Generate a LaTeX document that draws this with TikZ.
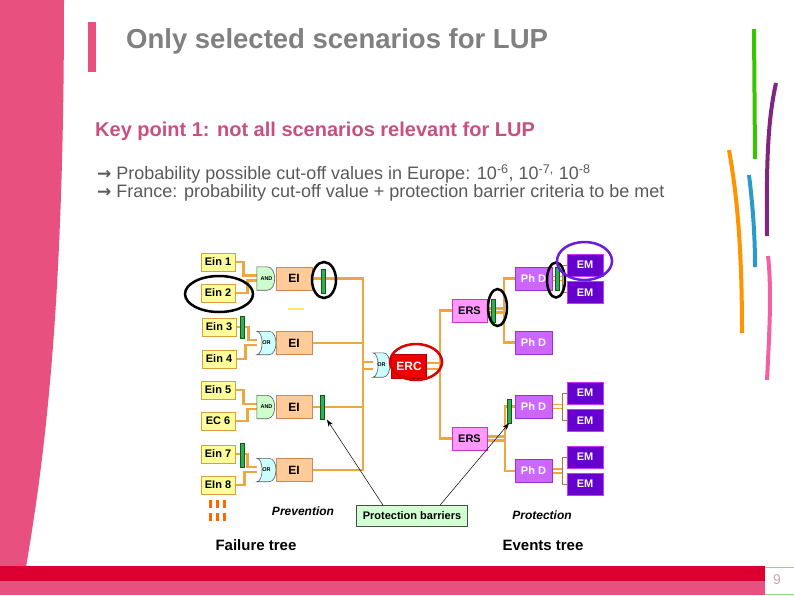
\documentclass[tikz,border=0pt]{standalone}
\usepackage{fontspec}
\setmainfont{Liberation Sans}
\newfontfamily\arrowfont{DejaVu Sans}
\usepackage{xcolor}
\usepackage{tikz}
\usetikzlibrary{positioning,arrows.meta,shapes.geometric,backgrounds,calc}

\definecolor{slidepink}{HTML}{E8507F}
\definecolor{slidered}{HTML}{DC0030}
\definecolor{titlegray}{HTML}{808080}
\definecolor{keypink}{HTML}{C94F82}
\definecolor{textgray}{HTML}{595959}
\definecolor{wireorange}{HTML}{EDA640}
\definecolor{einfill}{HTML}{FFFF99}
\definecolor{einborder}{HTML}{D9A040}
\definecolor{eifill}{HTML}{FFCC99}
\definecolor{eiborder}{HTML}{D08850}
\definecolor{barrgreen}{HTML}{3CA660}
\definecolor{ersfill}{HTML}{FF99FF}
\definecolor{ersborder}{HTML}{CC33CC}
\definecolor{phdfill}{HTML}{CC66FF}
\definecolor{phdborder}{HTML}{9933CC}
\definecolor{emfill}{HTML}{6600CC}
\definecolor{emborder}{HTML}{CC33FF}
\definecolor{ercred}{HTML}{EE0000}
\definecolor{ringpurple}{HTML}{6A1BE0}
\definecolor{stubbrown}{HTML}{B07838}
\definecolor{andfill}{HTML}{CCFFCC}
\definecolor{orfill}{HTML}{CCFFFF}

\begin{document}
\begin{tikzpicture}[
    x=1pt, y=-1pt,
    ein_box/.style={draw=einborder, fill=einfill, line width=1pt, minimum width=34, minimum height=18, inner sep=0pt, font=\bfseries\fontsize{11}{11}\selectfont},
    ei_box/.style={draw=eiborder, fill=eifill, line width=0.8pt, minimum width=36, minimum height=23, inner sep=0pt, font=\bfseries\fontsize{12}{12}\selectfont},
    gate/.style={minimum width=19, minimum height=23, inner sep=0pt, font=\bfseries\fontsize{5.5}{5.5}\selectfont},
    gate_line/.style={draw=black!65, line width=0.6pt},
    barrier/.style={draw=green!40!black, fill=barrgreen, line width=0.4pt, minimum width=4, minimum height=24, inner sep=0pt},
    ers_box/.style={draw=ersborder, fill=ersfill, line width=0.8pt, minimum width=35, minimum height=23, inner sep=0pt, font=\bfseries\fontsize{11}{11}\selectfont},
    phd_box/.style={draw=phdborder, fill=phdfill, text=white, line width=0.8pt, minimum width=37, minimum height=23, inner sep=0pt, font=\bfseries\fontsize{11}{11}\selectfont},
    em_box/.style={draw=emborder, fill=emfill, text=white, line width=0.8pt, minimum width=36, minimum height=22, inner sep=0pt, font=\bfseries\fontsize{11}{11}\selectfont},
    wire/.style={draw=wireorange, line width=2.2pt},
    stub_wire/.style={draw=stubbrown, line width=0.8pt},
    ring/.style={ellipse, draw=black, line width=2.5pt, inner sep=0pt},
    caption/.style={font=\bfseries\fontsize{15}{15}\selectfont},
    note/.style={font=\bfseries\itshape\fontsize{12}{12}\selectfont}
]
\useasboundingbox (0,0) rectangle (794,595);

% slide frame
\fill[slidepink] (0,0) -- (64,0) .. controls (64,300) and (46,450) .. (26,567) -- (0,567) -- cycle;
\fill[slidered] (0,566) rectangle (765,581);
\fill[slidepink] (0,581) rectangle (765,595);
\draw[green!50!gray!60, line width=1pt] (765,567) -- (794,567) (765,594) -- (794,594);
\node (pagenum) at (777,580) {\color{pink!60!gray}\fontsize{14}{14}\selectfont 9};
\fill[slidepink] (88,22) rectangle (96,72);

% coloured strokes on the right
\draw[line width=4pt, green!55!olive] (754,29) -- (755,159);
\draw[line width=4pt, violet!70!gray] (776,83) .. controls (769,115) and (766,150) .. (767,236);
\draw[line width=4pt, orange!85!yellow] (729,150) .. controls (736,190) and (742,240) .. (742,333);
\draw[line width=4pt, cyan!60!teal] (749,175) .. controls (752,200) and (755,230) .. (755,267);
\draw[line width=4pt, magenta!50!pink] (768,256) .. controls (772,290) and (769,340) .. (767,380);

% texts
\node[anchor=west, inner sep=0pt, text=titlegray, font=\bfseries\fontsize{27.5}{27.5}\selectfont] (title) at (126,41) {Only selected scenarios for LUP};
\node[anchor=west, inner sep=0pt, text=keypink, font=\bfseries\fontsize{20}{20}\selectfont] (keypoint) at (95,131) {Key point 1: not all scenarios relevant for LUP};
\node[anchor=west, inner sep=0pt, text=textgray, font=\fontsize{18}{18}\selectfont] (bullet1) at (97,174) {{\arrowfont\bfseries\fontsize{17}{17}\selectfont →} Probability possible cut-off values in Europe: 10\textsuperscript{-6}, 10\textsuperscript{-7,} 10\textsuperscript{-8}};
\node[anchor=west, inner sep=0pt, text=textgray, font=\fontsize{18}{18}\selectfont] (bullet2) at (97,193) {{\arrowfont\bfseries\fontsize{17}{17}\selectfont →} France: probability cut-off value + protection barrier criteria to be met};

% failure tree
\node[ein_box] (ein1) at (218,262) {Ein 1};
\node[ein_box] (ein2) at (218,293) {Ein 2};
\node[gate] (and1) at (266.5,278.5) {AND};
\node[ei_box] (ei1) at (294,278.5) {EI};
\node[barrier] (bar1) at (323,281) {};

\node[ein_box] (ein3) at (219,327) {Ein 3};
\node[ein_box] (ein4) at (219,359) {Ein 4};
\node[barrier, minimum height=22] (bar3) at (242,327) {};
\node[gate] (or1) at (266.5,343) {OR};
\node[ei_box] (ei2) at (294,343) {EI};

\node[ein_box] (ein5) at (218,390) {Ein 5};
\node[ein_box] (ec6) at (218,421) {EC 6};
\node[gate] (and2) at (266.5,407) {AND};
\node[ei_box] (ei3) at (294,407) {EI};
\node[barrier] (bar2) at (322,407.5) {};

\node[ein_box] (ein7) at (218,454) {Ein 7};
\node[ein_box] (ein8) at (218,485) {EIn 8};
\node[barrier] (bar4) at (242,455) {};
\node[gate] (or2) at (266.5,470) {OR};
\node[ei_box] (ei4) at (294,470) {EI};

% central event
\node[gate, minimum width=17, minimum height=24] (or3) at (381.5,365) {OR};
\node[draw=red!70!black, fill=ercred, text=white, minimum width=35, minimum height=24, inner sep=0pt, font=\bfseries\fontsize{12}{12}\selectfont] (erc) at (409,366) {ERC};

% events tree
\node[ers_box] (ers1) at (469.5,310.5) {ERS};
\node[barrier, minimum height=23] (bar5) at (493,311) {};
\node[phd_box] (phd1) at (533.5,278.5) {Ph D};
\node[barrier, minimum height=23] (bar6) at (557,278.5) {};
\node[phd_box] (phd2) at (533.5,342.5) {Ph D};
\node[em_box] (em1) at (585,265) {EM};
\node[em_box] (em2) at (585,292.5) {EM};

\node[ers_box] (ers2) at (469.5,438.5) {ERS};
\node[barrier] (bar7) at (509,411) {};
\node[phd_box] (phd3) at (533.5,406.5) {Ph D};
\node[phd_box] (phd4) at (533.5,471) {Ph D};
\node[em_box] (em3) at (585,393) {EM};
\node[em_box] (em4) at (585,420.5) {EM};
\node[em_box] (em5) at (585,457) {EM};
\node[em_box] (em6) at (585,484) {EM};

% bus joints
\coordinate (jtop) at (363,278.5);
\coordinate (jbot) at (363,470);
\coordinate (ktop) at (440,310.5);
\coordinate (kbot) at (440,438.5);
\coordinate (mtop) at (504,278.5);
\coordinate (mbot) at (504,342.5);
\coordinate (ntop) at (505,406.5);
\coordinate (nbot) at (505,471);

\begin{scope}[on background layer]
\draw[wire] (ein1.east) -- ++(8,0) |- ([yshift=3]and1.west);
\draw[wire] (ein2.east) -- ++(12,0) |- ([yshift=-2]and1.west);
\draw[wire] (ein3.east) -- ++(12,0) |- ([yshift=3]or1.west);
\draw[wire] (ein4.east) -- ++(9,0) |- ([yshift=-2]or1.west);
\draw[wire] (ein5.east) -- ++(8,0) |- ([yshift=3]and2.west);
\draw[wire] (ec6.east) -- ++(12,0) |- ([yshift=-2]and2.west);
\draw[wire] (ein7.east) -- ++(12,0) |- ([yshift=3]or2.west);
\draw[wire] (ein8.east) -- ++(9,0) |- ([yshift=-2]or2.west);

\draw[wire] (ei1.east) -- (jtop) -- (jbot) -- (ei4.east);
\draw[wire] (ei2.east) -- (ei2.east -| jtop);
\draw[wire] (ei3.east) -- (ei3.east -| jtop);
\draw[wire] ([yshift=3]or3.west) -- ([yshift=3]or3.west -| jtop);
\draw[wire] ([yshift=-4]or3.west) -- ([yshift=-4]or3.west -| jtop);

\draw[wire] (ers1.west) -- (ktop) -- (kbot) -- (ers2.west);
\draw[wire] ([yshift=3]erc.east) -- ([yshift=3]erc.east -| ktop);
\draw[wire] ([yshift=-3]erc.east) -- ([yshift=-3]erc.east -| ktop);

\draw[wire] (phd1.west) -- (mtop) -- (mbot) -- (phd2.west);
\draw[wire] ([yshift=2]ers1.east) -- ([yshift=2]ers1.east -| mtop);
\draw[wire] ([yshift=-2]ers1.east) -- ([yshift=-2]ers1.east -| mtop);

\draw[wire] (phd3.west) -- (ntop) -- (nbot) -- (phd4.west);
\draw[wire] ([yshift=2]ers2.east) -- ([yshift=2]ers2.east -| ntop);
\draw[wire] ([yshift=-2]ers2.east) -- ([yshift=-2]ers2.east -| ntop);

\foreach \ph in {phd1,phd3,phd4}{
  \draw[wire, line width=1.8pt] ([yshift=2]\ph.east) -- ++(11,0);
  \draw[wire, line width=1.8pt] ([yshift=-2]\ph.east) -- ++(11,0);
}
\draw[stub_wire] (em1.west) -- ++(-4,0) |- (em2.west);
\draw[stub_wire] (em3.west) -- ++(-4,0) |- (em4.west);
\draw[stub_wire] (em5.west) -- ++(-4,0) |- (em6.west);

% gate outlines
\foreach \g in {and1,and2}{
  \draw[gate_line, fill=andfill] (\g.south west) -- (\g.north west) -- ([xshift=-9]\g.north east)
    .. controls ([xshift=1]\g.north east) and ([xshift=1]\g.south east) .. ([xshift=-9]\g.south east) -- cycle;
}
\foreach \g in {or1,or2,or3}{
  \draw[gate_line, fill=orfill] (\g.north west) -- ([xshift=-7]\g.north east)
    .. controls ([xshift=2]\g.north east) and ([xshift=2]\g.south east) .. ([xshift=-7]\g.south east)
    -- (\g.south west) .. controls ([xshift=7]\g.south west) and ([xshift=7]\g.north west) .. (\g.north west) -- cycle;
}
\end{scope}

% stray mark and event markers
\draw[yellow!80!orange!60, line width=2pt] (288,309) -- (304,309);
\foreach \mx in {209,216,223}{
  \fill[orange!80!red] (\mx,500) rectangle ++(3,8);
  \fill[orange!80!red] (\mx,513) rectangle ++(3,8);
}

% highlighted rings
\node[ring, minimum width=68, minimum height=36] (ring_ein2) at (219,294) {};
\node[ring, minimum width=24, minimum height=36] (ring_bar1) at (324,280) {};
\node[ring, minimum width=19, minimum height=37] (ring_bar5) at (497.5,307.5) {};
\node[ring, minimum width=18, minimum height=35] (ring_bar6) at (556,280) {};
\node[ring, draw=red!85!black, minimum width=52, minimum height=36] (ring_erc) at (416,362) {};
\node[ring, draw=ringpurple, minimum width=55, minimum height=38] (ring_em1) at (584.5,261) {};

% labels below
\node[draw=black!70, fill=green!18, line width=0.6pt, minimum width=111, minimum height=21, inner sep=0pt, font=\bfseries\fontsize{11}{11}\selectfont] (pbar) at (412,516) {Protection barriers};
\draw[-{Stealth[length=7pt,width=5pt]}, line width=0.5pt] ([xshift=-29]pbar.north) -- ([xshift=5]bar2.south);
\draw[-{Stealth[length=7pt,width=5pt]}, line width=0.5pt] ([xshift=28]pbar.north) -- (bar7.south);
\node[note] (prevention) at (303,511) {Prevention};
\node[note] (protection) at (542,515) {Protection};
\node[caption] (failtree) at (256,545) {Failure tree};
\node[caption] (evtree) at (543,545) {Events tree};

\end{tikzpicture}
\end{document}
